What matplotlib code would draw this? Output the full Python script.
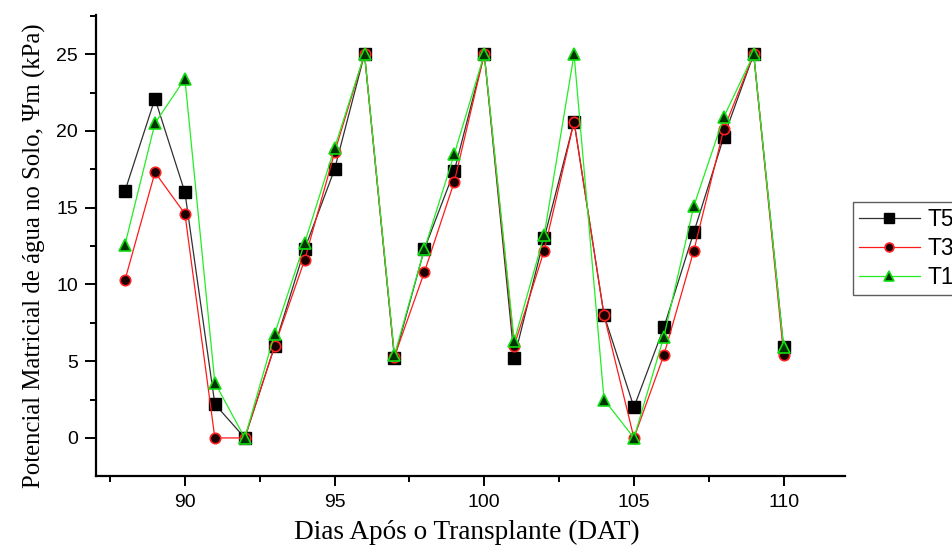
import matplotlib
matplotlib.use("Agg")
import matplotlib.pyplot as plt
from matplotlib.ticker import MultipleLocator

# dias apos o transplante
dat = [88, 89, 90, 91, 92, 93, 94, 95, 96, 97, 98, 99,
       100, 101, 102, 103, 104, 105, 106, 107, 108, 109, 110]

# potencial matricial (kPa) por tratamento
t5 = [16.1, 22.1, 16.0, 2.2, 0.0, 6.0, 12.3, 17.5, 25.0, 5.2, 12.3, 17.4,
      25.0, 5.2, 13.0, 20.6, 8.0, 2.0, 7.2, 13.4, 19.6, 25.0, 5.9]
t3 = [10.3, 17.3, 14.6, 0.0, 0.0, 6.0, 11.6, 18.6, 25.0, 5.3, 10.8, 16.7,
      25.0, 6.0, 12.2, 20.6, 8.0, 0.0, 5.4, 12.2, 20.1, 25.0, 5.4]
t1 = [12.6, 20.5, 23.4, 3.6, 0.0, 6.8, 12.7, 18.9, 25.0, 5.4, 12.3, 18.5,
      25.0, 6.3, 13.2, 25.0, 2.5, 0.0, 6.6, 15.1, 20.9, 25.0, 5.9]

plt.rcParams['font.family'] = 'Liberation Sans'

fig = plt.figure(figsize=(9.52, 5.47), dpi=100)
ax = fig.add_axes([96/952, 1-476/547, (845-96)/952, (476-15)/547])

ax.plot(dat, t5, color='#303030', linewidth=0.9, marker='s', markersize=8,
        markerfacecolor='black', markeredgecolor='black', label='T5')
ax.plot(dat, t3, color='#ff1a1a', linewidth=0.9, marker='o', markersize=7.5,
        markerfacecolor='#1a0000', markeredgecolor='#ff2020', markeredgewidth=1.2,
        label='T3')
ax.plot(dat, t1, color='#22ee22', linewidth=0.9, marker='^', markersize=9,
        markerfacecolor='#003300', markeredgecolor='#11dd11', markeredgewidth=1.2,
        label='T1')

ax.set_xlim(87.03, 112.05)
ax.set_ylim(-2.48, 27.55)
ax.xaxis.set_major_locator(MultipleLocator(5))
ax.xaxis.set_minor_locator(MultipleLocator(2.5))
ax.yaxis.set_major_locator(MultipleLocator(5))
ax.yaxis.set_minor_locator(MultipleLocator(2.5))

for side in ['top', 'right']:
    ax.spines[side].set_visible(False)
for side in ['left', 'bottom']:
    ax.spines[side].set_linewidth(1.6)

ax.tick_params(axis='x', which='major', direction='out', length=7, width=1.4,
               labelsize=14, pad=6)
ax.tick_params(axis='y', which='major', direction='out', length=8, width=1.4,
               labelsize=14, pad=5)
ax.tick_params(which='minor', direction='out', length=4, width=1.4)

ax.set_xlabel('Dias Após o Transplante (DAT)', family='Liberation Serif',
              fontsize=19.6)
ax.set_ylabel('Potencial Matricial de água no Solo, Ψm (kPa)',
              family='Liberation Serif', fontsize=17.8)
ax.xaxis.set_label_coords((467-96)/749, -(520-476)/461)
ax.yaxis.set_label_coords(-(96-46)/749, (476-256)/461)

# legenda fora do eixo, cortada pela borda direita da figura
leg = ax.legend(loc='upper left', bbox_to_anchor=(853/952, 1-202/547),
                bbox_transform=fig.transFigure, borderaxespad=0,
                fontsize=16.5, frameon=True, fancybox=False,
                edgecolor='#333333', markerscale=0.85, handlelength=2.68,
                handletextpad=0.3, borderpad=0.25, labelspacing=0.27)
leg.get_frame().set_linewidth(1.0)

fig.savefig('out.png', dpi=100)
